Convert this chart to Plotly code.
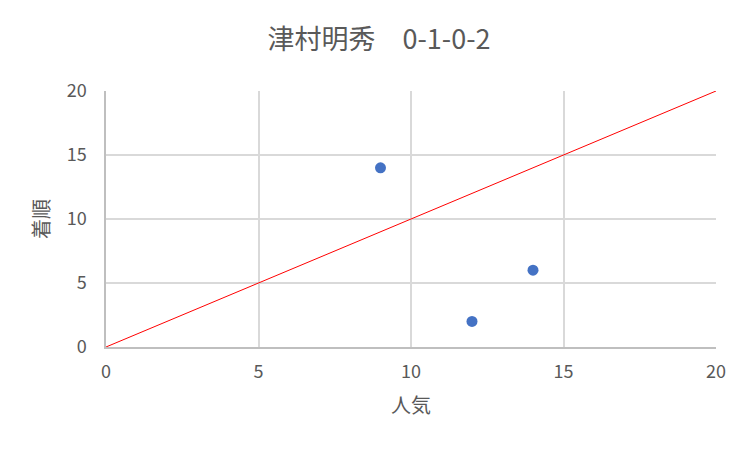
import plotly.graph_objects as go

title = "津村明秀　0-1-0-2"
popularity = [9, 12, 14]
finish = [14, 2, 6]
line_x = [0, 20]
line_y = [0, 20]
ticks = [0, 5, 10, 15, 20]

fig = go.Figure()
fig.add_trace(go.Scatter(x=popularity, y=finish, mode="markers",
                         marker=dict(color="#4472c4", size=11), cliponaxis=False))
fig.add_trace(go.Scatter(x=line_x, y=line_y, mode="lines",
                         line=dict(color="#ff0000", width=1), hoverinfo="skip", cliponaxis=False))

font = "Noto Sans CJK JP"
axis_common = dict(range=[0, 20], tickvals=ticks, showgrid=True, gridcolor="#d9d9d9",
                   gridwidth=1.5, zeroline=False, showline=True, linecolor="#bfbfbf",
                   linewidth=1.5, automargin=False, ticks="",
                   tickfont=dict(size=18, color="#595959", family=font))
fig.update_layout(
    width=742, height=442,
    margin=dict(l=98, r=34, t=83, b=103),
    paper_bgcolor="white", plot_bgcolor="white",
    showlegend=False,
    title=dict(text=title, x=0.5, xanchor="center", y=0.928, yanchor="middle",
               font=dict(size=27, color="#595959", family=font)),
    font=dict(family=font, color="#595959"),
)
fig.update_xaxes(**axis_common, ticklabelstandoff=8,
                 title=dict(text="人気", font=dict(size=20, color="#595959", family=font), standoff=17))
fig.update_yaxes(**axis_common, ticklabelstandoff=14,
                 title=dict(text="着順", font=dict(size=20, color="#595959", family=font), standoff=12))
fig.write_html("out.html")
